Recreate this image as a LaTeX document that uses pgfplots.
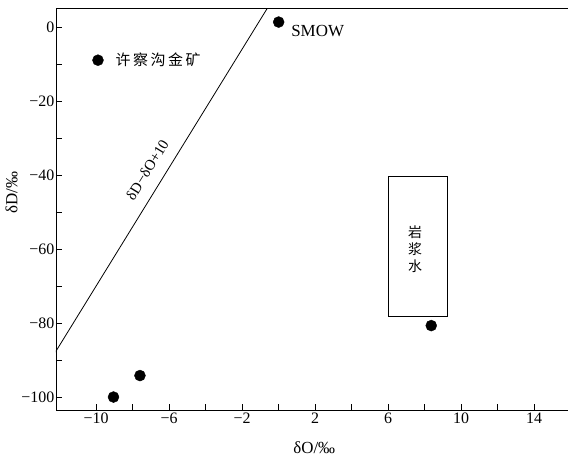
\documentclass[border=0pt]{standalone}
\usepackage{pgfplots}
\pgfplotsset{compat=1.18}
\usepackage{fontspec}
\setmainfont{Liberation Serif}
\newfontfamily\cjk{Noto Sans CJK SC}
\begin{document}
\begin{tikzpicture}
\begin{axis}[
  scale only axis,
  width=516.5bp, height=402bp,
  xmin=-12.2, xmax=16.1,
  ymin=-103.5, ymax=5.1,
  axis line style={line width=0.9bp},
  xtick={-10,-6,-2,2,6,10,14},
  xticklabels={−10,−6,−2,2,6,10,14},
  minor xtick={-8,-4,0,4,8,12},
  ytick={0,-20,-40,-60,-80,-100},
  yticklabels={0,−20,−40,−60,−80,−100},
  minor ytick={-10,-30,-50,-70,-90},
  xtick pos=bottom, ytick pos=left,
  tick align=inside,
  major tick length=6bp, minor tick length=6bp,
  tick style={line width=0.6bp, black},
  ticklabel style={font=\fontsize{16}{18}\selectfont},
  yticklabel style={inner sep=1.5bp},
  xticklabel style={inner sep=3bp},
  xlabel={δO/‰},
  ylabel={δD/‰},
  label style={font=\fontsize{17}{19}\selectfont},
  xlabel style={at={(axis description cs:0.5,-0.094)}, anchor=center},
  ylabel style={at={(axis description cs:-0.086,0.54)}, anchor=center, rotate=0},
]
% meteoric water line
\addplot[black, line width=0.8bp] coordinates {(-12.25,-88) (-0.625,5)};
% magmatic water box
\addplot[black, line width=0.7bp] coordinates {(6,-78.3) (9.25,-78.3) (9.25,-40.5) (6,-40.5)} -- cycle;
% data points
\addplot[only marks, mark=*, mark size=5.5bp, black] coordinates {
  (0,1.3) (-9.9,-9) (-9.05,-100) (-7.6,-94.2) (8.36,-80.7)
};
\node[anchor=west, font=\fontsize{15}{17}\selectfont\cjk] at (axis cs:-9.12,-9) {许\hspace{2.5bp}察\hspace{2.5bp}沟\hspace{2.5bp}金\hspace{2.5bp}矿};
\node[anchor=west, font=\fontsize{17}{19}\selectfont] at (axis cs:0.5,-1.2) {SMOW};
\node[font=\fontsize{14}{18}\selectfont\cjk, align=center] at (axis cs:7.48,-60) {岩\\[-1bp]浆\\[-1bp]水};
\node[rotate=58.3, font=\fontsize{15}{17}\selectfont, inner sep=0pt] at (axis cs:-7.2,-38.6) {δD−δO+10};
\end{axis}
\pgfresetboundingbox
\path[use as bounding box] ([xshift=-56bp,yshift=-48bp]current axis.south west) rectangle ([xshift=512bp,yshift=8bp]current axis.north west);
\end{tikzpicture}
\end{document}
